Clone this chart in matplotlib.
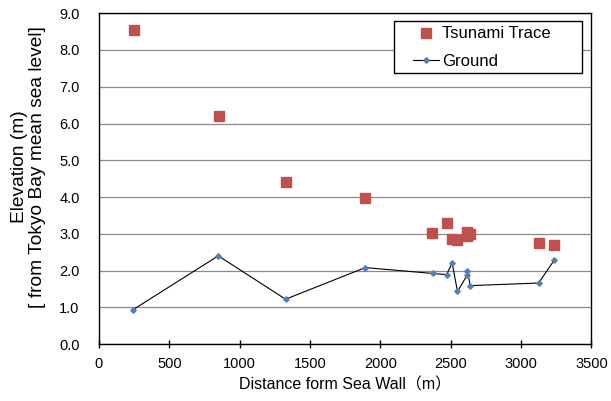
import matplotlib.pyplot as plt
from matplotlib.patches import Rectangle
from matplotlib.ticker import FormatStrFormatter

plt.rcParams['font.family'] = ['Liberation Sans', 'Noto Sans CJK JP', 'DejaVu Sans']

# Tsunami trace heights
trace_x = [246, 850, 1326, 1894, 2370, 2470, 2508, 2548, 2616, 2636, 2616, 3124, 3237]
trace_y = [8.55, 6.21, 4.41, 3.98, 3.02, 3.29, 2.86, 2.82, 3.04, 2.99, 2.94, 2.76, 2.70]

# Ground elevation along the survey line
ground_x = [244, 848, 1326, 1892, 2375, 2470, 2510, 2548, 2619, 2619, 2638, 3124, 3237]
ground_y = [0.94, 2.40, 1.22, 2.08, 1.92, 1.89, 2.20, 1.43, 1.89, 2.00, 1.59, 1.66, 2.29]

x_ticks = [0, 500, 1000, 1500, 2000, 2500, 3000, 3500]
y_ticks = [0, 1, 2, 3, 4, 5, 6, 7, 8, 9]

fig = plt.figure(figsize=(6.11, 4.01), dpi=100)
ax = fig.add_axes([0.162, 0.142, 0.806, 0.825])

ax.plot(trace_x, trace_y, linestyle='none', marker='s', markersize=6.5,
        color='#C0504D', label='Tsunami Trace', zorder=3)
ax.plot(ground_x, ground_y, color='black', linewidth=0.8, marker='D',
        markersize=2.8, markerfacecolor='#4F81BD', markeredgecolor='#4F81BD',
        label='Ground', zorder=3)

ax.set_xlim(0, 3500)
ax.set_ylim(0, 9)
ax.set_xticks(x_ticks)
ax.set_yticks(y_ticks)
ax.yaxis.set_major_formatter(FormatStrFormatter('%.1f'))

ax.grid(axis='y', color='#8a8a8a', linewidth=0.9)
ax.set_axisbelow(True)
for s in ax.spines.values():
    s.set_color('black')
    s.set_linewidth(1.0)

ax.tick_params(axis='x', direction='inout', length=6, width=1, labelsize=10.5, pad=6)
ax.tick_params(axis='y', length=0, labelsize=10.5, pad=14)

ax.set_xlabel('Distance form Sea Wall（m）', fontsize=11.5, labelpad=5)
ax.set_ylabel('Elevation (m)\n[ from Tokyo Bay mean sea level]', fontsize=13.8,
              linespacing=1.05)
ax.yaxis.set_label_coords(-0.108, 0.535)

# legend box drawn like Excel's: wide frame, entries inside
ax.add_patch(Rectangle((0.599, 0.819), 0.381, 0.159, transform=ax.transAxes,
                       facecolor='white', edgecolor='black', linewidth=1.0,
                       zorder=4))
leg = ax.legend(loc='upper left', bbox_to_anchor=(0.637, 0.96), fontsize=12,
                frameon=False, handlelength=1.6, handletextpad=0.15,
                borderpad=0, borderaxespad=0, labelspacing=0.75)
leg.set_zorder(5)

fig.savefig('out.png', dpi=100)
